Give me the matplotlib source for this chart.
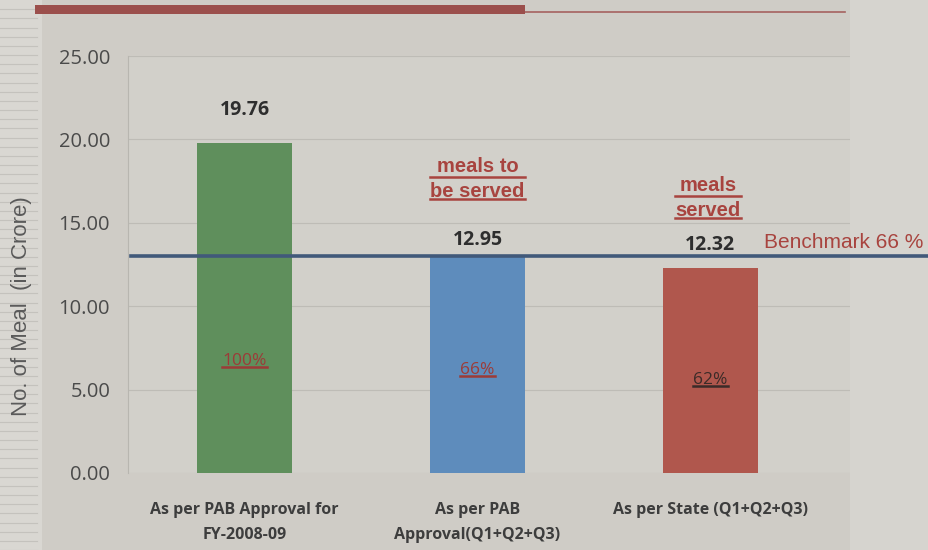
import matplotlib
matplotlib.use("Agg")
import matplotlib.pyplot as plt
from matplotlib.patches import Rectangle
from matplotlib.lines import Line2D

categories = ["As per PAB Approval for\nFY-2008-09",
              "As per PAB\nApproval(Q1+Q2+Q3)",
              "As per State (Q1+Q2+Q3)"]
meals = [19.76, 12.95, 12.32]
shares = ["100%", "66%", "62%"]
notes = [None, "meals to\nbe served", "meals\nserved"]
benchmark_pct = 66
benchmark = meals[0] * benchmark_pct / 100

bar_colors = ["#5f8f5c", "#5e8cbc", "#b0574d"]
pct_colors = ["#9c3b38", "#9c3b38", "#3b2b28"]
note_red = "#a8443f"
bg = "#cfccc6"

fig = plt.figure(figsize=(9.29, 5.5), dpi=100)
fig.patch.set_facecolor(bg)

# slide decorations: lighter strips at both sides and the title rule
fig.patches.append(Rectangle((0, 0), 0.045, 1, transform=fig.transFigure,
                             facecolor="#d9d7d2", edgecolor="none", zorder=0))
fig.patches.append(Rectangle((0.915, 0), 0.085, 1, transform=fig.transFigure,
                             facecolor="#d6d4cf", edgecolor="none", zorder=0))
for yy in [i / 60 for i in range(60)]:
    fig.lines.append(Line2D([0, 0.04], [yy, yy], transform=fig.transFigure,
                            color="#c4c2bd", lw=0.8, zorder=1))
fig.patches.append(Rectangle((0.038, 0.975), 0.527, 0.016, transform=fig.transFigure,
                             facecolor="#9b4f4c", edgecolor="none", zorder=1))
fig.lines.append(Line2D([0.565, 0.91], [0.979, 0.979], transform=fig.transFigure,
                        color="#a5625f", lw=1.2, zorder=1))

ax = fig.add_axes([0.138, 0.14, 0.777, 0.758])
ax.set_zorder(3)
ax.set_facecolor("#d2d0ca")
x = range(len(meals))
ax.bar(x, meals, width=0.41, color=bar_colors, zorder=2)
ax.set_xlim(-0.5, 2.6)
ax.set_ylim(0, 25)
ax.set_yticks([0, 5, 10, 15, 20, 25])
ax.set_yticklabels([f"{v:.2f}" for v in ax.get_yticks()],
                   fontfamily="Open Sans", fontsize=14.5, color="#4a4a4a")
ax.set_xticks(list(x))
ax.set_xticklabels(categories, fontfamily="Open Sans", fontweight="bold",
                   fontsize=11.5, color="#3d3d3d", linespacing=1.75)
ax.tick_params(length=0)
ax.tick_params(axis="x", pad=21)
ax.tick_params(axis="y", pad=13)
ax.grid(axis="y", color="#bebcb6", lw=0.8, zorder=0)
for s in ["top", "right", "bottom"]:
    ax.spines[s].set_visible(False)
ax.spines["left"].set_color("#b8b6b0")
ax.set_ylabel("No. of Meal  (in Crore)", fontfamily="Liberation Sans",
              fontsize=16, color="#5a5a5a")
ax.yaxis.set_label_coords(-0.133, 0.4)

# benchmark line runs past the plot edge
ax.plot([-0.49, 3.2], [benchmark, benchmark], color="#41597a", lw=2.6,
        clip_on=False, zorder=4)
ax.text(2.23, benchmark + 0.22, f"Benchmark {benchmark_pct} %",
        fontfamily="Liberation Sans", fontsize=15, color=note_red,
        va="bottom", ha="left", clip_on=False)

label_gap = [2.0, 1.0, 1.35]
pct_y = [6.7, 6.2, 5.6]
note_pos = [None, (0.0, 16.3), (-0.01, 15.15)]

underlined = []
for i, v in enumerate(meals):
    ax.text(i, v + label_gap[i], f"{v:.2f}", ha="center", va="center",
            fontfamily="Open Sans", fontweight="bold", fontsize=14, color="#2e2e2e",
            zorder=5)
    t = ax.text(i, pct_y[i], shares[i], ha="center", va="center",
                fontfamily="Open Sans", fontsize=12.5, color=pct_colors[i], zorder=5)
    underlined.append((t, pct_colors[i]))
    if notes[i]:
        dx, ny = note_pos[i]
        n = ax.text(i + dx, ny, notes[i], ha="center", va="bottom",
                    fontfamily="Liberation Sans", fontweight="bold",
                    fontsize=14.5, color=note_red, linespacing=1.4)
        underlined.append((n, note_red))

# underline each annotated text, line by line
fig.canvas.draw()
r = fig.canvas.get_renderer()
inv = fig.transFigure.inverted()
for t, c in underlined:
    lines = t.get_text().split("\n")
    bb = t.get_window_extent(renderer=r)
    h = bb.height / len(lines)
    for k in range(len(lines)):
        y0 = bb.y1 - (k + 1) * h + 2
        (fx0, fy), (fx1, _) = inv.transform([(bb.x0, y0), (bb.x1, y0)])
        fig.lines.append(Line2D([fx0, fx1], [fy, fy], transform=fig.transFigure,
                                color=c, lw=1.8, zorder=6))

fig.savefig("out.png", dpi=100, facecolor=bg)
